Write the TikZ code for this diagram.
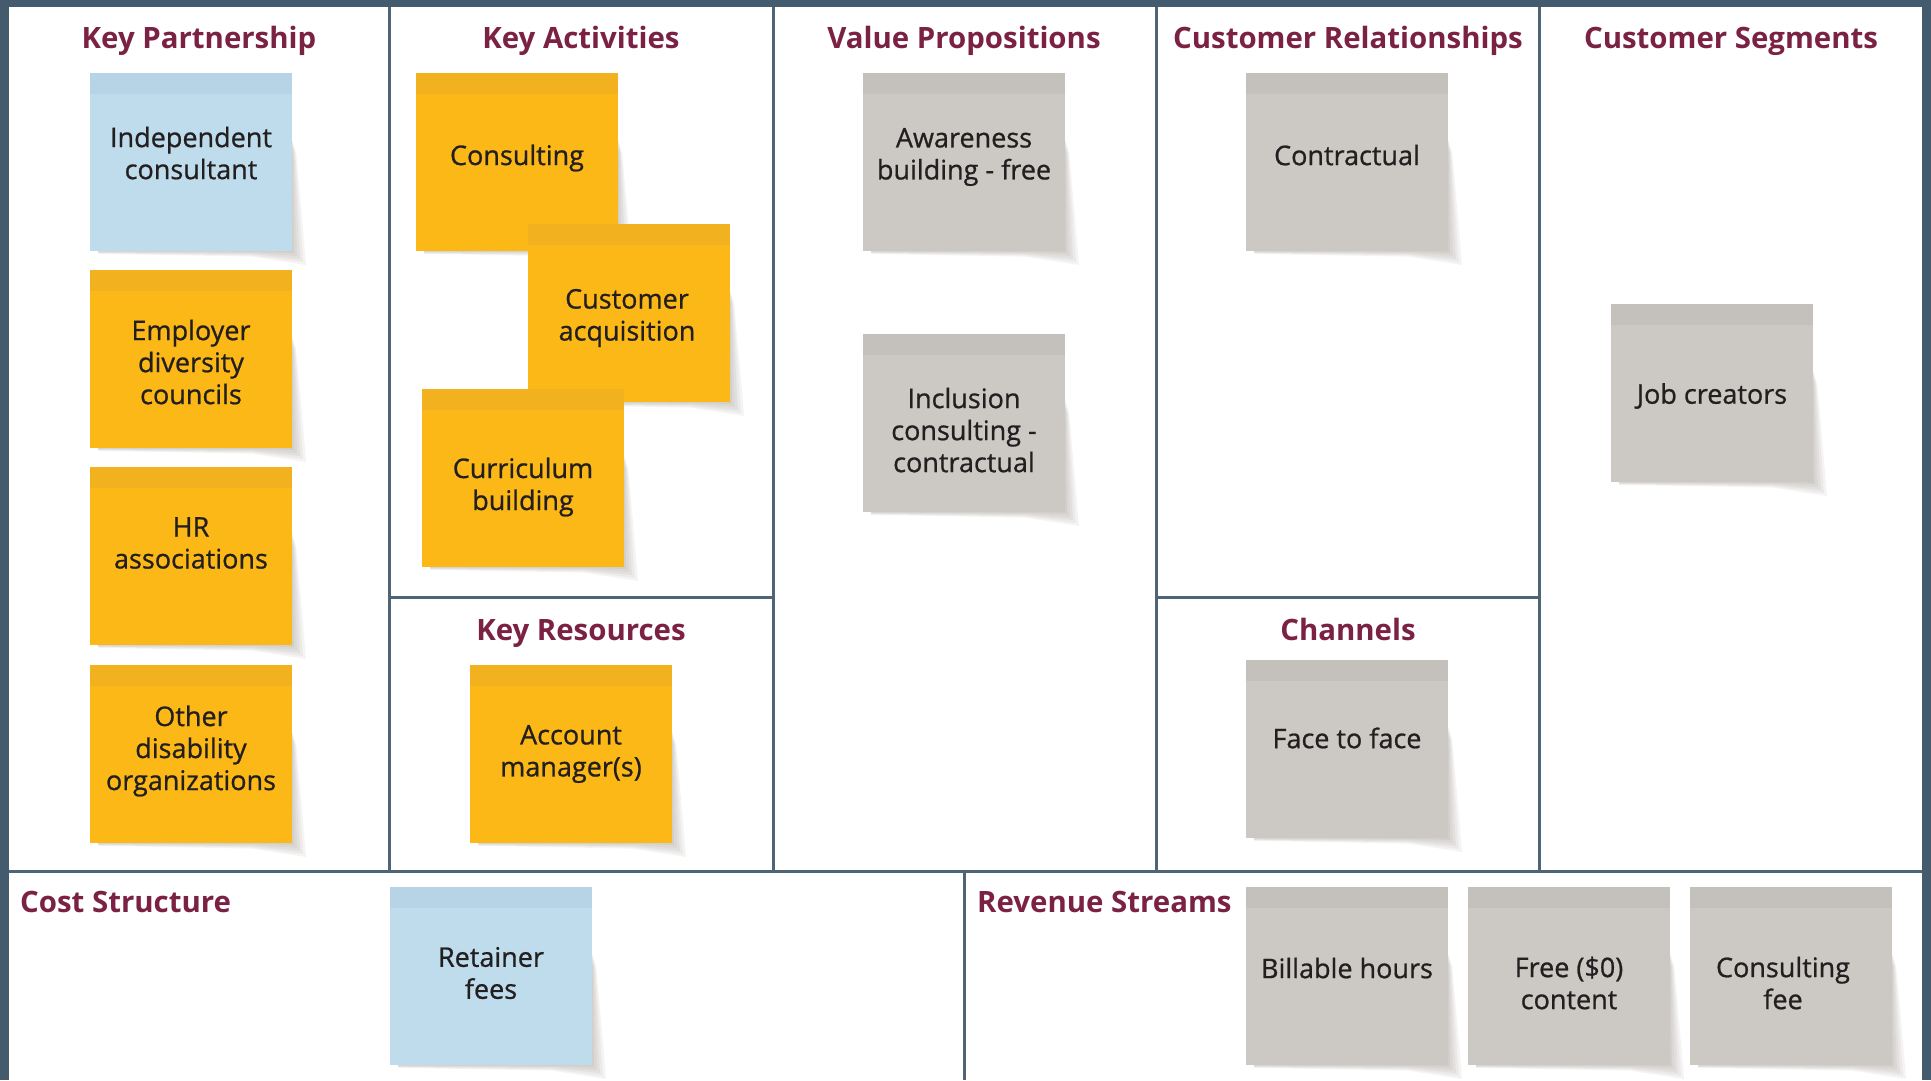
\documentclass[tikz,border=0pt]{standalone}
\usepackage{fontspec}
\setmainfont{Open Sans}
\newfontfamily\notefont[BoldFont={Open Sans}, BoldFeatures={FakeBold=0.8}]{Open Sans}
\usetikzlibrary{calc}
\definecolor{framecol}{HTML}{445B6E}
\definecolor{divcol}{HTML}{4E6477}
\definecolor{titlecol}{HTML}{7B2244}
\definecolor{ink}{HTML}{231F20}
\definecolor{nblue}{HTML}{BEDCEB}
\definecolor{nbluetop}{HTML}{B6D4E5}
\definecolor{norange}{HTML}{FBB817}
\definecolor{norangetop}{HTML}{F2B11F}
\definecolor{ngray}{HTML}{CCC9C4}
\definecolor{ngraytop}{HTML}{C4C1BC}
\definecolor{shadecol}{HTML}{5A5040}

\newcommand\stickynote[7]{%
  \foreach \sd in {2,5,8,11,14}{%
    \fill[shadecol, opacity=0.06]
      (#2+197, #3+50) -- (#2+202+0.3*\sd, #3+80) -- (#2+202+0.8*\sd, #3+158)
      -- (#2+202+\sd, #3+178+\sd) -- (#2+162, #3+178+0.4*\sd)
      -- (#2+8, #3+178+0.2*\sd) -- (#2+8, #3+173) -- cycle;
  }
  \node[#4] (#1) at (#2,#3) {};
  \node[notetext] (#1-t) at (#2+101+#7,#3+#6) {#5};
}

\begin{document}
\begin{tikzpicture}[x=1pt,y=-1pt,
  notebox/.style={anchor=north west, minimum width=202pt, minimum height=178pt,
    inner sep=0pt, outer sep=0pt, draw=none},
  bluenote/.style={notebox, fill=nblue, path picture={\fill[nbluetop]
    (path picture bounding box.north west) rectangle
    ([yshift=-21pt]path picture bounding box.north east);}},
  orangenote/.style={notebox, fill=norange, path picture={\fill[norangetop]
    (path picture bounding box.north west) rectangle
    ([yshift=-21pt]path picture bounding box.north east);}},
  graynote/.style={notebox, fill=ngray, path picture={\fill[ngraytop]
    (path picture bounding box.north west) rectangle
    ([yshift=-21pt]path picture bounding box.north east);}},
  notetext/.style={font=\notefont\bfseries\fontsize{27}{32}\selectfont, text=ink, align=center, inner sep=0pt},
  heading/.style={font=\fontsize{29.4}{36}\selectfont\bfseries, text=titlecol, inner sep=0pt, anchor=base},
  lheading/.style={heading, anchor=base west},
  divline/.style={draw=divcol, line width=3pt},
]
\useasboundingbox (0,0) rectangle (1931,1080);
\fill[framecol] (0,0) rectangle (1931,1080);
\fill[white] (9,7) rectangle (1922,1080);

% dividers
\draw[divline] (389,7) -- (389,871);
\draw[divline] (773,7) -- (773,871);
\draw[divline] (1156,7) -- (1156,871);
\draw[divline] (1539,7) -- (1539,871);
\draw[divline] (389,597) -- (773,597);
\draw[divline] (1156,597) -- (1539,597);
\draw[divline] (9,871) -- (1922,871);
\draw[divline] (964,871) -- (964,1080);

% headings
\node[heading] (hkp) at (199,48) {Key Partnership};
\node[heading] (hka) at (581,48) {Key Activities};
\node[heading] (hvp) at (964,48) {Value Propositions};
\node[heading] (hcr) at (1348,48) {Customer Relationships};
\node[heading] (hcs) at (1731,48) {Customer Segments};
\node[heading] (hkr) at (581,640) {Key Resources};
\node[heading] (hch) at (1348,640) {Channels};
\node[lheading] (hcost) at (20,912) {Cost Structure};
\node[lheading] (hrs) at (977,912) {Revenue Streams};

% notes
\stickynote{kp1}{90}{73}{bluenote}{Independent\\consultant}{80}{0}
\stickynote{kp2}{90}{270}{orangenote}{Employer\\diversity\\councils}{92}{0}
\stickynote{kp3}{90}{467}{orangenote}{HR\\associations}{76}{0}
\stickynote{kp4}{90}{665}{orangenote}{Other\\disability\\organizations}{86}{0}
\stickynote{ka1}{416}{73}{orangenote}{Consulting}{85}{0}
\stickynote{ka2}{528}{224}{orangenote}{Customer\\acquisition}{94}{-2}
\stickynote{ka3}{422}{389}{orangenote}{Curriculum\\building}{98}{0}
\stickynote{kr1}{470}{665}{orangenote}{Account\\manager(s)}{89}{0}
\stickynote{vp1}{863}{73}{graynote}{Awareness\\building - free}{84}{0}
\stickynote{vp2}{863}{334}{graynote}{Inclusion\\consulting -\\contractual}{96}{0}
\stickynote{cr1}{1246}{73}{graynote}{Contractual}{82}{0}
\stickynote{ch1}{1246}{660}{graynote}{Face to face}{78}{0}
\stickynote{cs1}{1611}{304}{graynote}{Job creators}{92}{0}
\stickynote{cost1}{390}{887}{bluenote}{Retainer\\fees}{86}{0}
\stickynote{rs1}{1246}{887}{graynote}{Billable hours}{81}{0}
\stickynote{rs2}{1468}{887}{graynote}{Free (\$0)\\content}{96}{0}
\stickynote{rs3}{1690}{887}{graynote}{Consulting\\fee}{96}{-8}
\end{tikzpicture}
\end{document}
